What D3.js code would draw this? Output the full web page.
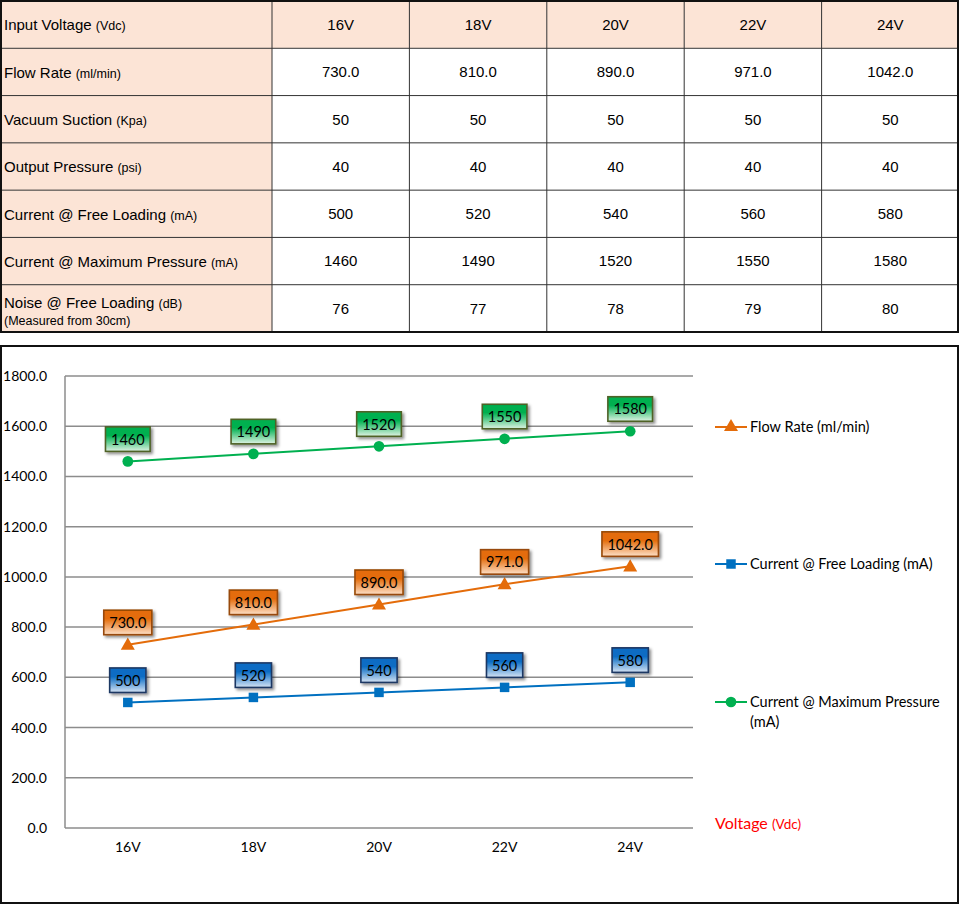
<!DOCTYPE html>
<html>
<head>
<meta charset="utf-8">
<script src="https://cdn.jsdelivr.net/npm/d3@7"></script>
<style>
  html, body { margin: 0; padding: 0; background: #fff; }
  svg { display: block; }
</style>
</head>
<body>
<svg id="chart" width="960" height="905"></svg>
<script>
// ---------------- DATA ----------------
const voltages = ["16V", "18V", "20V", "22V", "24V"];
const flowRate = [730.0, 810.0, 890.0, 971.0, 1042.0];
const vacuumSuction = [50, 50, 50, 50, 50];
const outputPressure = [40, 40, 40, 40, 40];
const currentFree = [500, 520, 540, 560, 580];
const currentMax = [1460, 1490, 1520, 1550, 1580];
const noise = [76, 77, 78, 79, 80];
const yTicks = [0, 200, 400, 600, 800, 1000, 1200, 1400, 1600, 1800];

const tableRows = [
  { label: "Input Voltage", unit: "(Vdc)", values: voltages, fmt: d => d, header: true },
  { label: "Flow Rate", unit: "(ml/min)", values: flowRate, fmt: d => d.toFixed(1) },
  { label: "Vacuum Suction", unit: "(Kpa)", values: vacuumSuction, fmt: d => d },
  { label: "Output Pressure", unit: "(psi)", values: outputPressure, fmt: d => d },
  { label: "Current @ Free Loading", unit: "(mA)", values: currentFree, fmt: d => d },
  { label: "Current @ Maximum Pressure", unit: "(mA)", values: currentMax, fmt: d => d },
  { label: "Noise @ Free Loading", unit: "(dB)", sub: "(Measured from 30cm)", values: noise, fmt: d => d }
];

const series = [
  { name: "Flow Rate (ml/min)", values: flowRate, fmt: d => d.toFixed(1), color: "#e46c0a",
    top: "#e46c0a", bottom: "#fde0c8", border: "#984807", symbol: d3.symbolTriangle, size: 85, legendY: 427 },
  { name: "Current @ Free Loading (mA)", values: currentFree, fmt: d => String(d), color: "#0070c0",
    top: "#0a6cc4", bottom: "#d6e4f4", border: "#1f3864", symbol: d3.symbolSquare, size: 90, legendY: 564 },
  { name: ["Current @ Maximum Pressure", "(mA)"], values: currentMax, fmt: d => String(d), color: "#00b050",
    top: "#00b050", bottom: "#dff3e4", border: "#4f6228", symbol: d3.symbolCircle, size: 90, legendY: 702 }
];

const svg = d3.select("#chart");
const defs = svg.append("defs");
const shadow = defs.append("filter").attr("id", "shadow")
  .attr("x", "-20%").attr("y", "-20%").attr("width", "150%").attr("height", "160%");
shadow.append("feDropShadow").attr("dx", 2).attr("dy", 2).attr("stdDeviation", 1.5)
  .attr("flood-color", "#000").attr("flood-opacity", 0.45);

series.forEach((s, i) => {
  const g = defs.append("linearGradient").attr("id", "grad" + i)
    .attr("x1", 0).attr("y1", 0).attr("x2", 0).attr("y2", 1);
  g.append("stop").attr("offset", "0%").attr("stop-color", s.top);
  g.append("stop").attr("offset", "35%").attr("stop-color", s.top);
  g.append("stop").attr("offset", "100%").attr("stop-color", s.bottom);
});

// ---------------- TABLE ----------------
const tableFont = "'Liberation Sans', Arial, sans-serif";
const colX = d3.scaleBand().domain(d3.range(5)).range([272, 959]);
const rowY = d3.scaleBand().domain(d3.range(tableRows.length)).range([1, 332]);
const peach = "#fce4d6";
const tbl = svg.append("g");

tableRows.forEach((r, ri) => {
  const y0 = rowY(ri), h = rowY.bandwidth();
  tbl.append("rect").attr("x", 1).attr("y", y0).attr("width", 271).attr("height", h)
    .attr("fill", peach);
  r.values.forEach((v, ci) => {
    tbl.append("rect").attr("x", colX(ci)).attr("y", y0).attr("width", colX.bandwidth()).attr("height", h)
      .attr("fill", r.header ? peach : "#fff");
    tbl.append("text").attr("x", colX(ci) + colX.bandwidth() / 2).attr("y", y0 + h / 2)
      .attr("dy", "0.36em").attr("text-anchor", "middle")
      .attr("font-family", tableFont).attr("font-size", 15).attr("fill", "#000")
      .text(r.fmt(v));
  });
  const t = tbl.append("text").attr("x", 4)
    .attr("y", r.sub ? y0 + h / 2 - 6 : y0 + h / 2).attr("dy", "0.36em")
    .attr("font-family", tableFont).attr("fill", "#000");
  t.append("tspan").attr("font-size", 15).text(r.label + " ");
  t.append("tspan").attr("font-size", 12.5).text(r.unit);
  if (r.sub) {
    tbl.append("text").attr("x", 4).attr("y", y0 + h / 2 + 12).attr("dy", "0.36em")
      .attr("font-family", tableFont).attr("font-size", 12.5).attr("fill", "#000").text(r.sub);
  }
});
// grid lines of table
const rowEdges = d3.range(tableRows.length + 1).map(i => i < tableRows.length ? rowY(i) : 332);
rowEdges.slice(1, -1).forEach(y => tbl.append("line").attr("x1", 1).attr("x2", 959)
  .attr("y1", y).attr("y2", y).attr("stroke", "#333").attr("stroke-width", 1));
[272].concat(d3.range(1, 5).map(i => colX(i))).forEach(x => tbl.append("line")
  .attr("x1", x).attr("x2", x).attr("y1", 1).attr("y2", 332).attr("stroke", "#333").attr("stroke-width", 1));
tbl.append("rect").attr("x", 1).attr("y", 1).attr("width", 957).attr("height", 331)
  .attr("fill", "none").attr("stroke", "#111").attr("stroke-width", 2);

// ---------------- CHART ----------------
const chartFont = "Lato, 'Open Sans', sans-serif";
svg.append("rect").attr("x", 1).attr("y", 346).attr("width", 957).attr("height", 557)
  .attr("fill", "#fff").attr("stroke", "#111").attr("stroke-width", 2);

const x = d3.scaleBand().domain(voltages).range([65, 693]);
const y = d3.scaleLinear().domain([0, 1800]).range([828, 376]);
const cx = v => x(v) + x.bandwidth() / 2;

const plot = svg.append("g");
// gridlines
plot.selectAll(".grid").data(yTicks).join("line")
  .attr("x1", 65).attr("x2", 693).attr("y1", d => y(d)).attr("y2", d => y(d))
  .attr("stroke", "#8c8c8c").attr("stroke-width", 1.5);
plot.append("line").attr("x1", 65).attr("x2", 65).attr("y1", y(1800)).attr("y2", y(0))
  .attr("stroke", "#8c8c8c").attr("stroke-width", 1.5);

// y axis labels
const yAxis = d3.axisLeft(y).tickValues(yTicks).tickFormat(d => d.toFixed(1)).tickSize(0).tickPadding(18);
const ya = svg.append("g").attr("transform", "translate(65,0)").call(yAxis);
ya.select(".domain").remove();
ya.selectAll("text").attr("font-family", chartFont).attr("font-size", 14).attr("fill", "#000");

// x axis labels
const xAxis = d3.axisBottom(x).tickSize(0).tickPadding(14);
const xa = svg.append("g").attr("transform", "translate(0,828)").call(xAxis);
xa.select(".domain").remove();
xa.selectAll("text").attr("font-family", chartFont).attr("font-size", 14).attr("fill", "#000");

const line = d3.line().x((d, i) => cx(voltages[i])).y(d => y(d));

series.forEach((s, si) => {
  const g = svg.append("g");
  g.append("path").attr("d", line(s.values)).attr("fill", "none")
    .attr("stroke", s.color).attr("stroke-width", 2);
  g.selectAll(".m").data(s.values).join("path")
    .attr("transform", (d, i) => `translate(${cx(voltages[i])},${y(d) + (s.symbol === d3.symbolTriangle ? 1 : 0)})`)
    .attr("d", d3.symbol().type(s.symbol).size(s.size)())
    .attr("fill", s.color);
  // data labels
  s.values.forEach((d, i) => {
    const px = cx(voltages[i]), py = y(d);
    const lg = g.append("g");
    const txt = lg.append("text").attr("x", px).attr("y", py - 22).attr("dy", "0.36em")
      .attr("text-anchor", "middle").attr("font-family", chartFont).attr("font-size", 14.5)
      .attr("fill", "#000").text(s.fmt(d));
    const w = txt.node().getComputedTextLength() + 11;
    lg.insert("rect", "text").attr("x", px - w / 2).attr("y", py - 34.5).attr("width", w).attr("height", 24.5)
      .attr("fill", `url(#grad${si})`).attr("stroke", s.border).attr("stroke-width", 1.6)
      .attr("filter", "url(#shadow)");
  });
  // legend
  const lgd = svg.append("g");
  lgd.append("line").attr("x1", 715).attr("x2", 747).attr("y1", s.legendY).attr("y2", s.legendY)
    .attr("stroke", s.color).attr("stroke-width", 2);
  lgd.append("path").attr("transform", `translate(731,${s.legendY})`)
    .attr("d", d3.symbol().type(s.symbol).size(s.size)()).attr("fill", s.color);
  const names = Array.isArray(s.name) ? s.name : [s.name];
  names.forEach((n, k) => lgd.append("text").attr("x", 750).attr("y", s.legendY + k * 20).attr("dy", "0.36em")
    .attr("font-family", chartFont).attr("font-size", 14.5).attr("fill", "#000").text(n));
});

// axis title
const at = svg.append("text").attr("x", 715).attr("y", 823).attr("dy", "0.36em")
  .attr("font-family", chartFont).attr("fill", "#ff0000");
at.append("tspan").attr("font-size", 16).text("Voltage ");
at.append("tspan").attr("font-size", 13.5).text("(Vdc)");
</script>
</body>
</html>
